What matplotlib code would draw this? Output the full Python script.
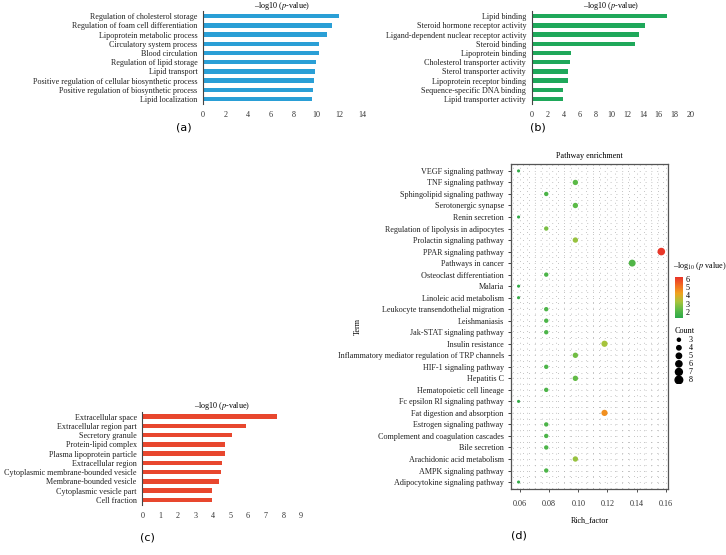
import numpy as np
import matplotlib
matplotlib.use("Agg")
import matplotlib.pyplot as plt
from matplotlib.colors import LinearSegmentedColormap

plt.rcParams['font.family'] = ['Liberation Serif', 'DejaVu Serif']
plt.rcParams['mathtext.fontset'] = 'stix'
plt.rcParams['font.size'] = 5.9

# (a) biological process
bp_terms = ["Regulation of cholesterol storage", "Regulation of foam cell differentiation",
            "Lipoprotein metabolic process", "Circulatory system process", "Blood circulation",
            "Regulation of lipid storage", "Lipid transport",
            "Positive regulation of cellular biosynthetic process",
            "Positive regulation of biosynthetic process", "Lipid localization"]
bp_values = [11.97, 11.4, 10.9, 10.2, 10.2, 9.97, 9.9, 9.76, 9.65, 9.59]

# (b) molecular function
mf_terms = ["Lipid binding", "Steroid hormone receptor activity",
            "Ligand-dependent nuclear receptor activity", "Steroid binding",
            "Lipoprotein binding", "Cholesterol transporter activity",
            "Sterol transporter activity", "Lipoprotein receptor binding",
            "Sequence-specific DNA binding", "Lipid transporter activity"]
mf_values = [17.0, 14.25, 13.5, 13.04, 4.9, 4.82, 4.6, 4.53, 3.98, 3.9]

# (c) cellular component
cc_terms = ["Extracellular space", "Extracellular region part", "Secretory granule",
            "Protein-lipid complex", "Plasma lipoprotein particle", "Extracellular region",
            "Cytoplasmic membrane-bounded vesicle", "Membrane-bounded vesicle",
            "Cytoplasmic vesicle part", "Cell fraction"]
cc_values = [7.66, 5.9, 5.07, 4.7, 4.7, 4.5, 4.44, 4.33, 3.97, 3.95]

# (d) KEGG pathway enrichment
kegg_terms = ["VEGF signaling pathway", "TNF signaling pathway", "Sphingolipid signaling pathway",
              "Serotonergic synapse", "Renin secretion", "Regulation of lipolysis in adipocytes",
              "Prolactin signaling pathway", "PPAR signaling pathway", "Pathways in cancer",
              "Osteoclast differentiation", "Malaria", "Linoleic acid metabolism",
              "Leukocyte transendothelial migration", "Leishmaniasis", "Jak-STAT signaling pathway",
              "Insulin resistance", "Inflammatory mediator regulation of TRP channels",
              "HIF-1 signaling pathway", "Hepatitis C", "Hematopoietic cell lineage",
              "Fc epsilon RI signaling pathway", "Fat digestion and absorption",
              "Estrogen signaling pathway", "Complement and coagulation cascades",
              "Bile secretion", "Arachidonic acid metabolism", "AMPK signaling pathway",
              "Adipocytokine signaling pathway"]
kegg_rich = [0.059, 0.098, 0.078, 0.098, 0.059, 0.078, 0.098, 0.157, 0.137, 0.078,
             0.059, 0.059, 0.078, 0.078, 0.078, 0.118, 0.098, 0.078, 0.098, 0.078,
             0.059, 0.118, 0.078, 0.078, 0.078, 0.098, 0.078, 0.059]
kegg_count = [3, 5, 4, 5, 3, 4, 5, 8, 7, 4,
              3, 3, 4, 4, 4, 6, 5, 4, 5, 4,
              3, 6, 4, 4, 4, 5, 4, 3]
kegg_logp = [1.4, 2.2, 1.9, 2.2, 1.4, 2.6, 3.0, 6.2, 2.0, 1.9,
             1.4, 1.5, 1.9, 1.9, 1.9, 3.2, 2.5, 1.9, 2.3, 1.9,
             1.4, 4.6, 1.9, 1.9, 1.9, 3.0, 1.9, 1.4]
legend_counts = [3, 4, 5, 6, 7, 8]

W, H = 726, 555


def px(x0, y0, x1, y1):
    # pixel box -> figure fraction rect
    return [x0 / W, 1 - y1 / H, (x1 - x0) / W, (y1 - y0) / H]


def bar_panel(rect, terms, values, color, xmax, step):
    ax = fig.add_axes(rect)
    y = np.arange(len(terms))[::-1]
    ax.barh(y, values, height=0.48, color=color)
    ax.set_ylim(-0.5, len(terms) - 0.5)
    ax.set_xlim(0, xmax)
    ax.set_xticks(np.arange(0, xmax + 1, step))
    ax.set_yticks(y)
    ax.set_yticklabels(terms)
    for s in ['top', 'right', 'bottom']:
        ax.spines[s].set_visible(False)
    ax.spines['left'].set_color('#444444')
    ax.spines['left'].set_linewidth(0.8)
    ax.tick_params(axis='x', length=0, pad=5, colors='#333333')
    ax.tick_params(axis='y', length=0, pad=4, colors='#222222')
    ax.set_title(r'–log10 ($p$-value)', fontsize=5.9, pad=0.5)
    return ax


fig = plt.figure(figsize=(7.26, 5.55), dpi=100)

bar_panel(px(203, 11.5, 362, 103.7), bp_terms, bp_values, '#2a9fd6', 14, 2)
bar_panel(px(531.7, 11.5, 690.7, 103.7), mf_terms, mf_values, '#1fa85a', 20, 2)
bar_panel(px(142.3, 412, 301, 504.6), cc_terms, cc_values, '#e8472e', 9, 1)

# pathway bubble chart
cmap = LinearSegmentedColormap.from_list(
    'gyr', ['#2aa84a', '#5cba47', '#a9c43c', '#f0a21e', '#f26a21', '#e8322a'])
vmin, vmax = 1.2, 6.3


def msize(c):
    return 5 + (np.asarray(c) - 3) * 5


axd = fig.add_axes(px(510.7, 164, 668.3, 489.3))
yd = np.arange(len(kegg_terms))[::-1]
sc = axd.scatter(kegg_rich, yd, s=msize(kegg_count), c=kegg_logp, cmap=cmap,
                 vmin=vmin, vmax=vmax, zorder=3, linewidths=0)
axd.set_xlim(0.0536, 0.1618)
axd.set_ylim(-0.63, len(kegg_terms) - 0.4)
axd.set_xticks([0.06, 0.08, 0.10, 0.12, 0.14, 0.16])
axd.set_xticklabels(['0.06', '0.08', '0.10', '0.12', '0.14', '0.16'])
axd.set_xticks(np.arange(0.055, 0.162, 0.005), minor=True)
axd.set_yticks(yd)
axd.set_yticklabels(kegg_terms)
axd.set_yticks(np.arange(-0.5, len(kegg_terms), 1.0), minor=True)
axd.grid(which='both', color='#b0b0b0', linestyle=(0, (1, 6)), linewidth=0.6)
axd.tick_params(which='minor', length=0)
axd.tick_params(axis='y', which='major', length=2, width=0.6, pad=3, colors='#222222')
axd.tick_params(axis='x', which='major', length=2, width=0.6, pad=6, colors='#333333')
for s in axd.spines.values():
    s.set_color('#555555')
    s.set_linewidth(0.9)
axd.set_title('Pathway enrichment', fontsize=5.9, pad=4)
axd.set_xlabel('Rich_factor', fontsize=5.9, labelpad=6)
axd.set_ylabel('Term', fontsize=5.9)
axd.yaxis.set_label_coords(-0.944, 0.5)

# colorbar
cax = fig.add_axes(px(675, 276.7, 683, 318.3))
cb = fig.colorbar(sc, cax=cax, ticks=[2, 3, 4, 5, 6])
cb.outline.set_visible(False)
cax.tick_params(length=0, pad=2, labelsize=5.9)
fig.text(673 / W, 1 - 266 / H, r'–log$_{10}$ ($p$ value)', fontsize=5.9, ha='left', va='center')

# count legend
fig.text(675 / W, 1 - 331 / H, 'Count', fontsize=5.9, ha='left', va='center')
axl = fig.add_axes(px(672, 335.7, 702, 384))
axl.scatter([0.23] * len(legend_counts), legend_counts, s=msize(legend_counts), color='black')
for c in legend_counts:
    axl.text(0.55, c, str(c), fontsize=5.9, va='center', ha='left')
axl.set_xlim(0, 1)
axl.set_ylim(8.5, 2.5)
axl.axis('off')

# panel letters
for lab, x, y in [('(a)', 184, 128), ('(b)', 538, 128), ('(c)', 147, 537), ('(d)', 519, 536)]:
    fig.text(x / W, 1 - y / H, lab, fontsize=8, family='DejaVu Sans', ha='center', va='center')

fig.savefig('out.png', dpi=100)
